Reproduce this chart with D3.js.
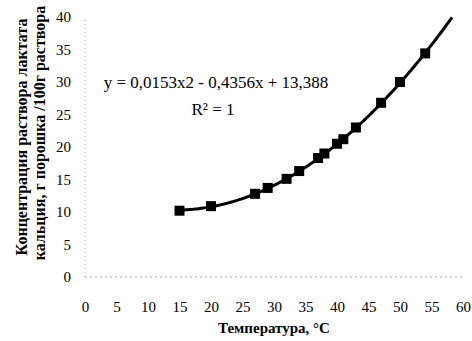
<!DOCTYPE html>
<html>
<head>
<meta charset="utf-8">
<script src="https://cdn.jsdelivr.net/npm/d3@7"></script>
<style>
  body { margin: 0; background: #fff; }
  text { font-family: "Liberation Serif", "Times New Roman", serif; fill: #000; }
</style>
</head>
<body>
<div id="chart"></div>
<script>
// measured points (temperature, concentration)
const temps = [15, 20, 27, 29, 32, 34, 37, 38, 40, 41, 43, 47, 50, 54];
const conc = [10.2, 10.9, 12.8, 13.7, 15.1, 16.3, 18.3, 19.0, 20.5, 21.2, 23.0, 26.8, 30.0, 34.4];
// trendline coefficients as printed on the chart (a*x^2 + b*x + c)
const trendCoef = [0.0153, -0.4356, 13.388];
const xTicks = [0, 5, 10, 15, 20, 25, 30, 35, 40, 45, 50, 55, 60];
const yTicks = [0, 5, 10, 15, 20, 25, 30, 35, 40];

const W = 472, H = 341;
const margin = { top: 17, right: 9, bottom: 64, left: 85 };

const svg = d3.select('#chart').append('svg')
  .attr('width', W)
  .attr('height', H);

const x = d3.scaleLinear().domain([0, 60]).range([margin.left, W - margin.right]);
const y = d3.scaleLinear().domain([0, 40]).range([H - margin.bottom, margin.top]);

// faint dotted axis lines (scan look)
svg.append('line')
  .attr('x1', x(0)).attr('x2', x(0))
  .attr('y1', y(0)).attr('y2', y(40))
  .attr('stroke', '#aaa').attr('stroke-dasharray', '1,3');
svg.append('line')
  .attr('x1', x(0)).attr('x2', x(60))
  .attr('y1', y(0)).attr('y2', y(0))
  .attr('stroke', '#aaa').attr('stroke-dasharray', '2,3');

// axes with no lines, just labels
const xAxis = svg.append('g')
  .attr('transform', `translate(0,${y(0)})`)
  .call(d3.axisBottom(x).tickValues(xTicks).tickSize(0).tickPadding(24));
const yAxis = svg.append('g')
  .attr('transform', `translate(${margin.left},0)`)
  .call(d3.axisLeft(y).tickValues(yTicks).tickSize(0).tickPadding(14));
[xAxis, yAxis].forEach(a => {
  a.select('.domain').remove();
  a.selectAll('text')
    .style('font-family', '"Liberation Serif", "Times New Roman", serif')
    .style('font-size', '15px');
});

// trendline, clipped at the top of the plot
const xEnd = d3.range(15, 60.01, 0.25)
  .filter(t => trendCoef[0] * t * t + trendCoef[1] * t + trendCoef[2] <= 40.2);
const trend = xEnd.map(t => [t, trendCoef[0] * t * t + trendCoef[1] * t + trendCoef[2]]);

svg.append('path')
  .datum(trend)
  .attr('fill', 'none')
  .attr('stroke', '#000')
  .attr('stroke-width', 3)
  .attr('d', d3.line().x(d => x(d[0])).y(d => y(d[1])));

// markers
svg.append('g').selectAll('rect')
  .data(temps.map((t, i) => [t, conc[i]]))
  .join('rect')
  .attr('x', d => x(d[0]) - 5)
  .attr('y', d => y(d[1]) - 5)
  .attr('width', 10)
  .attr('height', 10)
  .attr('fill', '#000');

// equation
svg.append('text')
  .attr('x', 216).attr('y', 88)
  .attr('text-anchor', 'middle')
  .style('font-size', '17px')
  .text('y = 0,0153x2 - 0,4356x + 13,388');
svg.append('text')
  .attr('x', 213).attr('y', 115)
  .attr('text-anchor', 'middle')
  .style('font-size', '17px')
  .text('R² = 1');

// axis titles
svg.append('text')
  .attr('x', 274).attr('y', 333)
  .attr('text-anchor', 'middle')
  .style('font-size', '15px')
  .style('font-weight', 'bold')
  .text('Температура, °C');

svg.append('text')
  .attr('transform', 'translate(27,137) rotate(-90)')
  .attr('text-anchor', 'middle')
  .style('font-size', '16px')
  .style('font-weight', 'bold')
  .text('Концентрация раствора лактата');
svg.append('text')
  .attr('transform', 'translate(45,133) rotate(-90)')
  .attr('text-anchor', 'middle')
  .style('font-size', '16px')
  .style('font-weight', 'bold')
  .text('кальция, г порошка /100г раствора');
</script>
</body>
</html>
